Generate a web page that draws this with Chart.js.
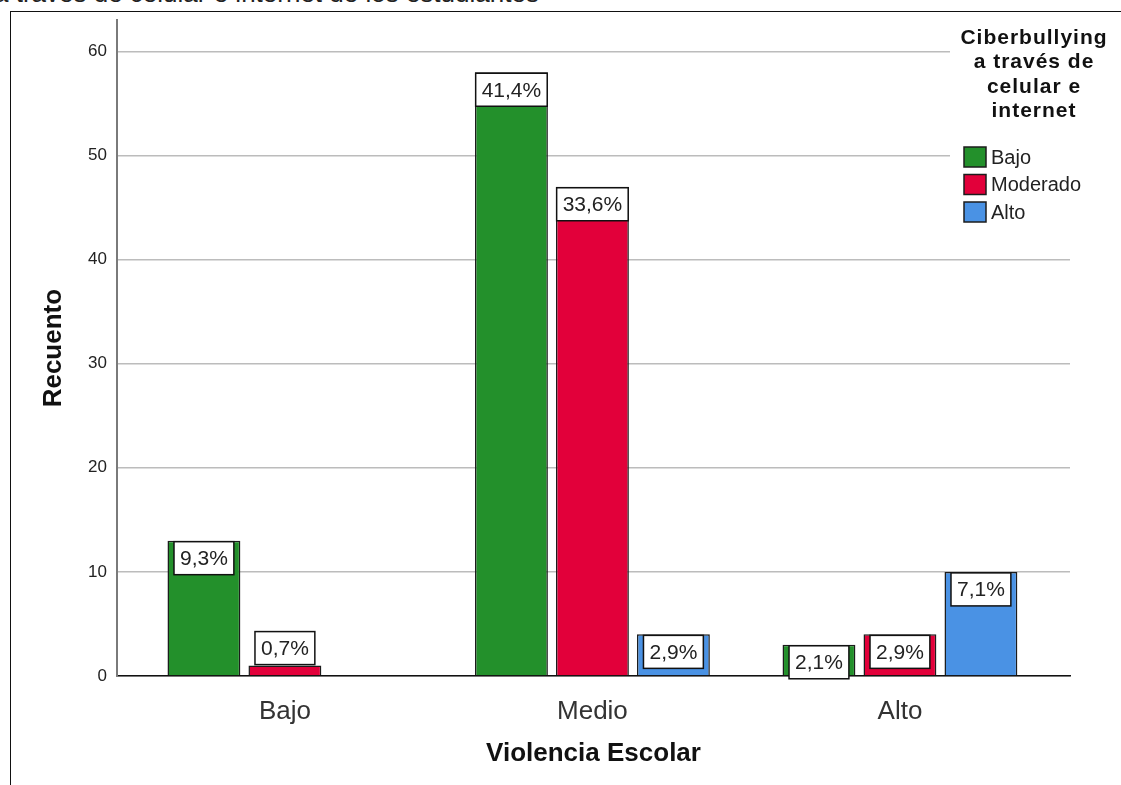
<!DOCTYPE html>
<html>
<head>
<meta charset="utf-8">
<script src="https://cdn.jsdelivr.net/npm/chart.js@4.4.1/dist/chart.umd.min.js"></script>
<style>
  html, body { margin:0; padding:0; background:#fff; overflow:hidden; }
  #wrap { position:relative; width:1121px; height:785px; }
  #cap { position:absolute; left:-6px; top:-22px; font:26px 'Liberation Sans', Arial, sans-serif; color:#222; white-space:nowrap; }
  #frame { position:absolute; left:10px; top:11px; right:-5px; bottom:-5px; border-left:1.5px solid #111; border-top:1.5px solid #111; }
  canvas { position:absolute; left:0; top:0; }
</style>
</head>
<body>
<div id="wrap">
  <div id="cap">a través de celular e internet de los estudiantes</div>
  <div id="frame"></div>
  <canvas id="grafico" width="1121" height="785"></canvas>
</div>
<script>
const FUENTE = "'Liberation Sans', Arial, sans-serif";
const COLORES = { bajo:'#23902b', moderado:'#e2003a', alto:'#4a92e4', borde:'#1c1c1c' };

// Datos (recuento por nivel de violencia escolar)
const categorias = ['Bajo', 'Medio', 'Alto'];
const nivelesCiber = ['Bajo', 'Moderado', 'Alto'];
const recuentoBajo = [13, 58, 3];
const recuentoModerado = [1, 47, 4];
const recuentoAlto = [0, 4, 10];
const porcBajo = ['9,3%', '41,4%', '2,1%'];
const porcModerado = ['0,7%', '33,6%', '2,9%'];
const porcAlto = ['', '2,9%', '7,1%'];
const ticksY = [0, 10, 20, 30, 40, 50, 60];
const tituloLeyenda = ['Ciberbullying', 'a través de', 'celular e', 'internet'];

function serie(valores) {
  return valores.map((v, i) => ({ x: i, y: v }));
}

// Etiquetas de porcentaje en caja blanca, arriba de cada barra
const etiquetas = {
  id: 'etiquetas',
  afterDatasetsDraw(chart) {
    const ctx = chart.ctx;
    ctx.save();
    ctx.font = '21px ' + FUENTE;
    ctx.textAlign = 'center';
    ctx.textBaseline = 'middle';
    chart.data.datasets.forEach((ds, di) => {
      chart.getDatasetMeta(di).data.forEach((bar, i) => {
        const txt = ds.porcentajes[i];
        if (!txt) return;
        const w = Math.min(bar.width, ctx.measureText(txt).width + 12);
        const h = 33;
        const alto = bar.base - bar.y;
        const top = alto < 20 ? bar.y - h - 1 : bar.y + 1;
        ctx.fillStyle = '#fff';
        ctx.fillRect(bar.x - w / 2, top, w, h);
        ctx.strokeStyle = '#111';
        ctx.lineWidth = 1.5;
        ctx.strokeRect(bar.x - w / 2, top, w, h);
        ctx.fillStyle = '#222';
        ctx.fillText(txt, bar.x, top + h / 2 + 1);
      });
    });
    ctx.restore();
  }
};

// Leyenda estilo SPSS dentro del área del gráfico
const leyenda = {
  id: 'leyenda',
  afterDraw(chart) {
    const ctx = chart.ctx;
    ctx.save();
    ctx.fillStyle = '#fff';
    ctx.fillRect(950, 22, 125, 208);
    ctx.fillStyle = '#111';
    ctx.font = 'bold 21px ' + FUENTE;
    ctx.letterSpacing = '1px';
    ctx.textAlign = 'center';
    ctx.textBaseline = 'middle';
    tituloLeyenda.forEach((t, i) => ctx.fillText(t, 1034, 38 + i * 24.5));
    ctx.letterSpacing = '0px';
    ctx.font = '20px ' + FUENTE;
    ctx.textAlign = 'left';
    chart.data.datasets.forEach((ds, i) => {
      const y = 157 + i * 27.5;
      ctx.fillStyle = ds.backgroundColor;
      ctx.fillRect(964, y - 10, 22, 20);
      ctx.strokeStyle = COLORES.borde;
      ctx.lineWidth = 1.5;
      ctx.strokeRect(964, y - 10, 22, 20);
      ctx.fillStyle = '#222';
      ctx.fillText(ds.label, 991, y + 1);
    });
    ctx.restore();
  }
};

new Chart(document.getElementById('grafico'), {
  type: 'bar',
  data: {
    datasets: [
      { label: nivelesCiber[0], data: serie(recuentoBajo), porcentajes: porcBajo, backgroundColor: COLORES.bajo },
      { label: nivelesCiber[1], data: serie(recuentoModerado), porcentajes: porcModerado, backgroundColor: COLORES.moderado },
      { label: nivelesCiber[2], data: serie(recuentoAlto), porcentajes: porcAlto, backgroundColor: COLORES.alto }
    ]
  },
  options: {
    responsive: false,
    animation: false,
    layout: { padding: { left: 0, right: 51, top: 14, bottom: 0 } },
    datasets: {
      bar: { categoryPercentage: 0.79, barPercentage: 0.9, borderColor: COLORES.borde, borderWidth: 1.5 }
    },
    plugins: { legend: { display: false }, tooltip: { enabled: false } },
    scales: {
      x: {
        type: 'linear',
        offset: false,
        min: -0.546,
        max: 2.553,
        afterBuildTicks: s => { s.ticks = categorias.map((c, i) => ({ value: i })); },
        afterFit: s => { s.height = 109; },
        grid: { display: false, offset: false },
        border: { display: true, color: '#111', width: 1.5 },
        ticks: { callback: v => categorias[v], color: '#333', padding: 12, font: { family: FUENTE, size: 26 } },
        title: { display: true, text: 'Violencia Escolar', color: '#111', padding: { bottom: 16 }, font: { family: FUENTE, size: 26, weight: 'bold' } }
      },
      y: {
        min: 0,
        max: 63,
        afterBuildTicks: s => { s.ticks = ticksY.map(v => ({ value: v })); },
        afterFit: s => { s.width = 117; },
        grid: { color: '#bcbcbc', lineWidth: 1.5, drawTicks: false },
        border: { display: true, color: '#7a7a7a', width: 2 },
        ticks: { color: '#222', padding: 10, font: { family: FUENTE, size: 17 } },
        title: { display: true, text: 'Recuento', color: '#111', padding: { top: 38 }, font: { family: FUENTE, size: 26, weight: 'bold' } }
      }
    }
  },
  plugins: [etiquetas, leyenda]
});
</script>
</body>
</html>
